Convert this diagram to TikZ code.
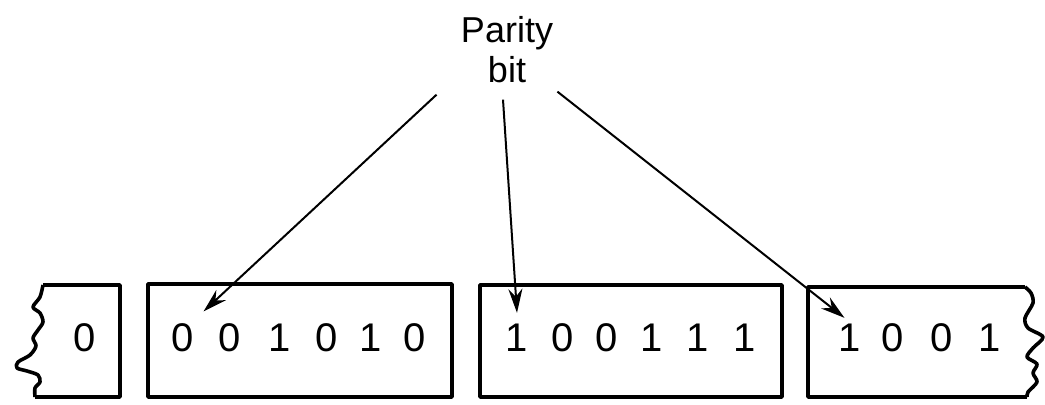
\documentclass[tikz,border=0pt]{standalone}
\usepackage{fontspec}
\setmainfont{Liberation Sans}
\usetikzlibrary{arrows.meta}

\tikzset{
  frame/.style={line width=1.8pt,line join=round},
  bit/.style={font=\fontsize{20}{22}\selectfont,inner sep=1pt},
  pointer/.style={-{Stealth[length=12pt,width=7pt]},line width=1pt}
}

\begin{document}
\begin{tikzpicture}[x=0.5pt,y=-0.5pt]
   \useasboundingbox (0,0) rectangle (1045,404);

   % tape frames
   \draw[frame] (43,285) -- (120,285) -- (120,397) -- (35,397);
   \draw[frame] plot[smooth] coordinates {(43,285) (40,297) (33,307) (40,313)
      (43,322) (38,330) (33,338) (36,346) (30,355) (18,362) (17,368) (27,371)
      (38,375) (40,382) (35,388) (35,397)};
   \draw[frame] (148,284) rectangle (452,397);
   \draw[frame] (480,285) rectangle (782,397);
   \draw[frame] (1027,397) -- (808,397) -- (808,287) -- (1025,287);
   \draw[frame] plot[smooth] coordinates {(1025,287) (1031,293) (1033,303)
      (1025,318) (1028,328) (1043,337) (1033,348) (1027,357) (1037,364)
      (1033,373) (1037,382) (1028,392) (1027,397)};

   % left piece
   \node[bit] (d11) at (85,338) {0};

   % first character
   \node[bit] (d21) at (183,338) {0};
   \node[bit] (d22) at (230,338) {0};
   \node[bit] (d23) at (280,338) {1};
   \node[bit] (d24) at (327,338) {0};
   \node[bit] (d25) at (371,338) {1};
   \node[bit] (d26) at (415,338) {0};

   % second character
   \node[bit] (d31) at (517,338) {1};
   \node[bit] (d32) at (563,338) {0};
   \node[bit] (d33) at (607,338) {0};
   \node[bit] (d34) at (652,338) {1};
   \node[bit] (d35) at (698,338) {1};
   \node[bit] (d36) at (745,338) {1};

   % right piece
   \node[bit] (d41) at (850,338) {1};
   \node[bit] (d42) at (893,338) {0};
   \node[bit] (d43) at (942,338) {0};
   \node[bit] (d44) at (990,338) {1};

   \node[font=\fontsize{18}{20}\selectfont,align=center,inner sep=2pt]
      (par) at (507,50) {Parity\\bit};

   \draw[pointer] ([xshift=-10pt,yshift=-3.5pt]par.south west) -- ([xshift=3.5pt,yshift=5pt]d21.north east);
   \draw[pointer] ([xshift=-2pt,yshift=-6pt]par.south) -- ([yshift=4.5pt]d31.north);
   \draw[pointer] ([yshift=-2pt]par.south east) -- ([xshift=4pt,yshift=2pt]d41.north west);
\end{tikzpicture}
\end{document}
